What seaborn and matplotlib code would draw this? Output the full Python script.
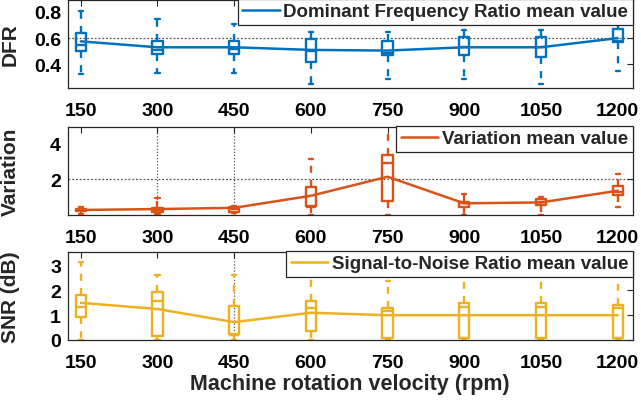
import matplotlib
matplotlib.use("Agg")
import matplotlib.pyplot as plt
import seaborn as sns
import numpy as np

rpm = [150, 300, 450, 600, 750, 900, 1050, 1200]

# DFR
dfr_mean = [0.575, 0.53, 0.53, 0.51, 0.505, 0.53, 0.53, 0.60]
dfr_q1 = [0.505, 0.48, 0.48, 0.42, 0.47, 0.47, 0.455, 0.57]
dfr_med = [0.55, 0.51, 0.52, 0.505, 0.49, 0.53, 0.53, 0.58]
dfr_q3 = [0.64, 0.58, 0.58, 0.59, 0.58, 0.61, 0.61, 0.67]
dfr_lo = [0.325, 0.335, 0.335, 0.25, 0.29, 0.29, 0.25, 0.35]
dfr_hi = [0.81, 0.745, 0.71, 0.65, 0.65, 0.66, 0.66, 0.95]

# Variation
var_mean = [0.28, 0.33, 0.40, 1.07, 2.13, 0.65, 0.70, 1.35]
var_q1 = [0.20, 0.15, 0.15, 0.52, 0.80, 0.45, 0.55, 1.13]
var_med = [0.28, 0.30, 0.35, 0.45, 2.87, 0.65, 0.70, 1.30]
var_q3 = [0.35, 0.40, 0.45, 1.54, 3.33, 0.75, 0.90, 1.63]
var_lo = [0.05, 0.05, 0.10, 0.0, 0.0, 0.0, 0.0, 0.46]
var_hi = [0.45, 0.95, 0.50, 3.10, 5.50, 1.17, 1.02, 2.28]

# SNR
snr_mean = [1.50, 1.25, 0.72, 1.10, 1.00, 1.00, 1.00, 1.00]
snr_q1 = [0.91, 0.16, 0.25, 0.37, 0.07, 0.10, 0.10, 0.10]
snr_med = [1.34, 1.57, 0.22, 1.30, 1.15, 1.35, 1.35, 1.30]
snr_q3 = [1.80, 1.94, 1.39, 1.57, 1.30, 1.50, 1.50, 1.40]
snr_lo = [0.0, 0.0, 0.0, 0.0, 0.0, 0.0, 0.0, 0.0]
snr_hi = [3.14, 2.63, 2.63, 3.60, 2.38, 3.60, 3.60, 3.60]

sns.set_style("white")
plt.rcParams['font.family'] = ['Liberation Sans', 'DejaVu Sans']
plt.rcParams['font.weight'] = 'bold'
plt.rcParams['axes.labelweight'] = 'bold'

FS = 14
LFS = 13.5
fig = plt.figure(figsize=(6.41, 4.10), dpi=100)

panels = [
    dict(mean=dfr_mean, q1=dfr_q1, med=dfr_med, q3=dfr_q3, lo=dfr_lo, hi=dfr_hi,
         color='#0072BD', label='Dominant Frequency Ratio mean value', ylabel='DFR',
         ylim=(0.22, 0.89), yticks=[0.4, 0.6, 0.8], yfmt='{:.1f}',
         rect=[68/641, 1-89/410, 565/641, 88/410], hgrid=[0.6], vgrid=[]),
    dict(mean=var_mean, q1=var_q1, med=var_med, q3=var_q3, lo=var_lo, hi=var_hi,
         color='#D95319', label='Variation mean value', ylabel='Variation',
         ylim=(0, 4.9), yticks=[2, 4], yfmt='{:.0f}',
         rect=[68/641, 1-216/410, 565/641, 88/410], hgrid=[2], vgrid=[300, 450]),
    dict(mean=snr_mean, q1=snr_q1, med=snr_med, q3=snr_q3, lo=snr_lo, hi=snr_hi,
         color='#EDB120', label='Signal-to-Noise Ratio mean value', ylabel='SNR (dB)',
         ylim=(0, 3.55), yticks=[0, 1, 2, 3], yfmt='{:.0f}',
         rect=[68/641, 1-341/410, 565/641, 88/410], hgrid=[], vgrid=[450]),
]

axes = []
for p in panels:
    ax = fig.add_axes(p['rect'])
    axes.append(ax)
    for h in p['hgrid']:
        ax.axhline(h, color='#555555', lw=0.9, ls=(0, (1.5, 1.5)), zorder=0.5)
    for v in p['vgrid']:
        ax.axvline(v, color='#555555', lw=0.9, ls=(0, (1, 1.5)), zorder=0.5)
    stats = []
    for i in range(len(rpm)):
        stats.append(dict(med=p['med'][i], q1=p['q1'][i], q3=p['q3'][i],
                          whislo=p['lo'][i], whishi=p['hi'][i], fliers=[]))
    c = p['color']
    ax.bxp(stats, positions=rpm, widths=20, capwidths=8, showfliers=False,
           manage_ticks=False,
           boxprops=dict(color=c, lw=1.7),
           medianprops=dict(color=c, lw=1.7),
           whiskerprops=dict(color=c, lw=1.7, ls=(0, (3, 3))),
           capprops=dict(color=c, lw=1.7))
    sns.lineplot(x=rpm, y=p['mean'], ax=ax, color=c, lw=1.8, label=p['label'])
    ax.set_xlim(125, 1230)
    ax.set_ylim(*p['ylim'])
    ax.set_xticks(rpm)
    ax.set_xticklabels([str(r) for r in rpm], fontsize=FS, fontweight='bold')
    ax.set_yticks(p['yticks'])
    ax.set_yticklabels([p['yfmt'].format(t) for t in p['yticks']], fontsize=FS, fontweight='bold')
    ax.tick_params(direction='in', length=4, width=0.8, top=True, right=True,
                   colors='#262626', labelcolor='black')
    ax.tick_params(axis='x', pad=10)
    ax.tick_params(axis='y', pad=5)
    for s in ax.spines.values():
        s.set_color('#262626')
        s.set_linewidth(0.9)
    ax.set_ylabel(p['ylabel'], fontsize=FS + 1, fontweight='bold')
    ax.yaxis.set_label_coords(-0.085, 0.5)
    leg = ax.legend(loc='upper right', bbox_to_anchor=(1.0, 1.015), borderaxespad=0,
                    fancybox=False, framealpha=1, edgecolor='#262626',
                    prop=dict(size=LFS, weight='bold'), handlelength=2.0,
                    borderpad=0.25, handletextpad=0.2)
    leg.get_frame().set_linewidth(0.9)

fig.text(350/641, 1-385/410, 'Machine rotation velocity (rpm)', ha='center', va='center',
         fontsize=15.5, fontweight='bold')

fig.savefig('out.png', dpi=100)
